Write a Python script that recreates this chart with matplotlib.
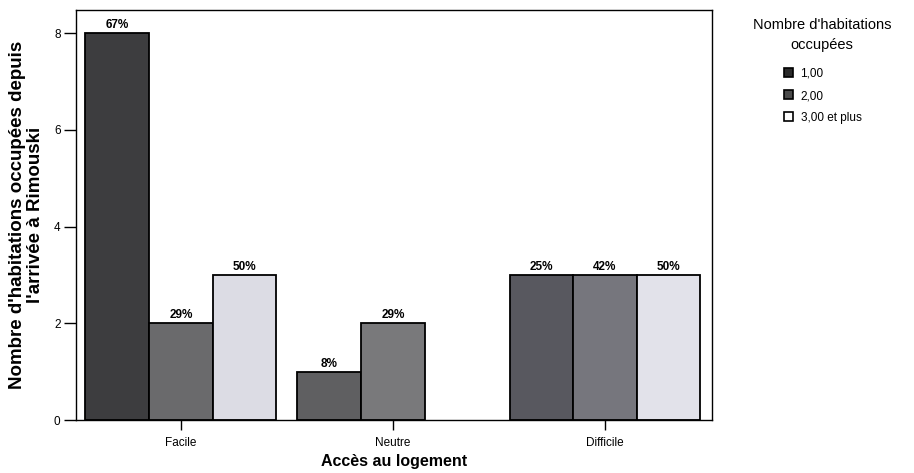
import matplotlib
matplotlib.use("Agg")
import matplotlib.pyplot as plt
from matplotlib.patches import Patch
import numpy as np

plt.rcParams['font.family'] = ['Liberation Sans', 'DejaVu Sans']

categories = ["Facile", "Neutre", "Difficile"]
series = ["1,00", "2,00", "3,00 et plus"]
# values per series, one per category (None = no bar)
values_1 = [8, 1, 3]
values_2 = [2, 2, 3]
values_3 = [3, None, 3]
pct_1 = ["67%", "8%", "25%"]
pct_2 = ["29%", "29%", "42%"]
pct_3 = ["50%", None, "50%"]
colors_1 = ["#3d3d3f", "#5f5f61", "#58585f"]
colors_2 = ["#6a6a6c", "#79797b", "#76767d"]
colors_3 = ["#dcdce4", None, "#e2e2ea"]
legend_colors = ["#2a2a2a", "#4a4a4a", "#ffffff"]

fig = plt.figure(figsize=(9.14, 4.73), dpi=100)
ax = fig.add_axes([0.083, 0.112, 0.696, 0.867])

width = 0.30
x = np.arange(len(categories))
all_vals = [values_1, values_2, values_3]
all_pcts = [pct_1, pct_2, pct_3]
all_cols = [colors_1, colors_2, colors_3]
for s in range(3):
    off = (s - 1) * width
    for i in range(len(categories)):
        v = all_vals[s][i]
        if v is None:
            continue
        ax.bar(x[i] + off, v, width=width, color=all_cols[s][i],
               edgecolor="black", linewidth=1.3, zorder=2)
        ax.text(x[i] + off, v + 0.04, all_pcts[s][i], ha="center", va="bottom",
                fontsize=8.5, fontweight="bold")

ax.set_xlim(-0.495, 2.505)
ax.set_ylim(0, 8.48)
ax.set_xticks(x)
ax.set_xticklabels(categories, fontsize=8.5)
ax.set_yticks([0, 2, 4, 6, 8])
ax.set_yticklabels(["0", "2", "4", "6", "8"], fontsize=8.5)
ax.tick_params(axis="y", direction="out", length=9, width=1, pad=2)
ax.tick_params(axis="x", direction="out", length=7, width=1, pad=5)
for sp in ax.spines.values():
    sp.set_linewidth(1.0)

ax.set_ylabel("Nombre d'habitations occupées depuis\nl'arrivée à Rimouski",
              fontsize=13.5, fontweight="bold", labelpad=7, linespacing=1.1)
ax.set_xlabel("Accès au logement", fontsize=11.5, fontweight="bold", labelpad=4)

fig.text(822 / 914, 1 - 35 / 473, "Nombre d'habitations\noccupées", ha="center",
         va="center", fontsize=10.5, linespacing=1.6)
handles = [Patch(facecolor=c, edgecolor="black", linewidth=1.2) for c in legend_colors]
leg = fig.legend(handles, series, loc="upper left",
                 bbox_to_anchor=(784 / 914, 1 - 68 / 473), frameon=False,
                 fontsize=8.5, handlelength=0.8, handleheight=0.8,
                 handletextpad=0.6, labelspacing=0.85, borderpad=0,
                 borderaxespad=0)

fig.savefig("out.png", dpi=100)
